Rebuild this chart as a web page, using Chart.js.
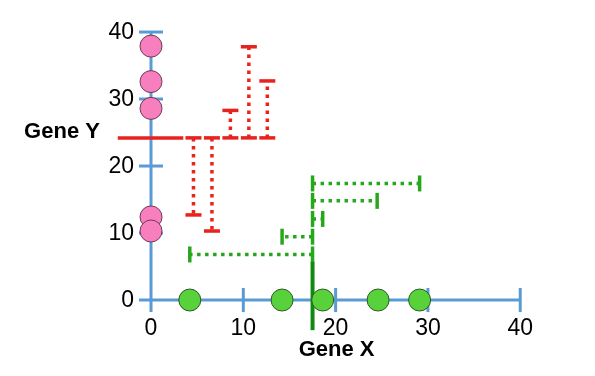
<!DOCTYPE html>
<html lang="en">
<head>
    <meta charset="UTF-8">
    <title>Gene X / Gene Y</title>
    <script src="https://cdn.jsdelivr.net/npm/chart.js"></script>
    <style>
        body { margin: 0; background: #fff; }
        canvas { display: block; }
    </style>
</head>
<body>
<canvas id="genes" width="595" height="376"></canvas>
<script>
    // values
    const geneYValues = [37.9, 32.6, 28.6, 12.4, 10.3];   // pink dots on the Y axis
    const geneXValues = [4.2, 14.2, 18.6, 24.6, 29.1];    // green dots on the X axis
    const meanY = 24.2;
    const meanX = 17.5;

    // red residuals: where each one stands on x, and where it ends on y
    const redResidX = [4.6, 6.6, 8.6, 10.6, 12.6];
    const redResidEnd = [12.7, 10.3, 28.3, 37.8, 32.7];

    // green residuals: height of each one, and where it ends on x
    const greenResidY = [6.8, 9.45, 12.1, 14.8, 17.4];
    const greenResidEnd = [4.2, 14.2, 18.6, 24.5, 29.1];

    const xTicks = [0, 10, 20, 30, 40];
    const yTicks = [0, 10, 20, 30, 40];
    const xLabel = 'Gene X';
    const yLabel = 'Gene Y';

    const AXIS = '#5b9bd5';
    const RED = '#e8221c';
    const GREEN = '#27a81c';
    const GREEN_DARK = '#128a12';
    const FONT = "'Liberation Sans', Arial, sans-serif";

    function seg(a, b, color, width, extra) {
        return Object.assign({
            data: [a, b],
            showLine: true,
            borderColor: color,
            borderWidth: width,
            pointRadius: 0,
            borderCapStyle: 'butt',
            order: 5
        }, extra || {});
    }

    const datasets = [];

    // dots first, they sit on top
    datasets.push({
        data: geneYValues.map(v => ({ x: 0, y: v })),
        pointRadius: 11,
        backgroundColor: '#f77fbd',
        borderColor: '#6e3a55',
        borderWidth: 1,
        order: 0
    });
    datasets.push({
        data: geneXValues.map(v => ({ x: v, y: 0 })),
        pointRadius: 11,
        backgroundColor: '#58d13b',
        borderColor: '#2c5a22',
        borderWidth: 1,
        order: 0
    });

    // mean lines
    datasets.push(seg({ x: -3.6, y: meanY }, { x: 3.5, y: meanY }, RED, 3.5, { order: 2 }));
    datasets.push(seg({ x: meanX, y: -4.5 }, { x: meanX, y: 5.7 }, GREEN_DARK, 4, { order: 2 }));

    // residuals with caps on both ends
    redResidX.forEach((x, i) => {
        datasets.push(seg({ x: x, y: meanY }, { x: x, y: redResidEnd[i] }, RED, 3.5, {
            borderDash: [3.5, 4.5],
            pointRadius: 8,
            pointStyle: 'line',
            pointBorderColor: RED,
            pointBorderWidth: 3.5,
            order: 3
        }));
    });
    greenResidY.forEach((y, i) => {
        datasets.push(seg({ x: meanX, y: y }, { x: greenResidEnd[i], y: y }, GREEN, 3.5, {
            borderDash: [3.5, 4.5],
            pointRadius: 8,
            pointStyle: 'line',
            pointRotation: 90,
            pointBorderColor: GREEN,
            pointBorderWidth: 3.5,
            order: 3
        }));
    });

    // axes drawn as crossed lines
    datasets.push(seg({ x: -1.3, y: 0 }, { x: xTicks[xTicks.length - 1], y: 0 }, AXIS, 3));
    datasets.push(seg({ x: 0, y: -1.8 }, { x: 0, y: yTicks[yTicks.length - 1] }, AXIS, 3));
    xTicks.filter(v => v !== 0).forEach(v => {
        datasets.push(seg({ x: v, y: -1.8 }, { x: v, y: 1.8 }, AXIS, 3));
    });
    yTicks.filter(v => v !== 0).forEach(v => {
        datasets.push(seg({ x: -1.3, y: v }, { x: 1.3, y: v }, AXIS, 3));
    });

    // tick labels and axis names
    const labelPlugin = {
        id: 'labels',
        afterDatasetsDraw(chart) {
            const ctx = chart.ctx;
            const sx = chart.scales.x, sy = chart.scales.y;
            ctx.save();
            ctx.fillStyle = '#000';
            ctx.font = '23px ' + FONT;
            ctx.textBaseline = 'middle';
            ctx.textAlign = 'center';
            xTicks.forEach(v => {
                ctx.fillText(String(v), sx.getPixelForValue(v), sy.getPixelForValue(0) + 29);
            });
            ctx.textAlign = 'right';
            yTicks.forEach(v => {
                ctx.fillText(String(v), sx.getPixelForValue(0) - 17, sy.getPixelForValue(v) + 1);
            });
            ctx.font = 'bold 22px ' + FONT;
            ctx.textAlign = 'center';
            ctx.fillText(xLabel, sx.getPixelForValue(20) + 1, sy.getPixelForValue(0) + 50);
            ctx.fillText(yLabel, sx.getPixelForValue(0) - 89, sy.getPixelForValue(meanY) - 6);
            ctx.restore();
        }
    };

    new Chart(document.getElementById('genes'), {
        type: 'scatter',
        data: { datasets: datasets },
        options: {
            responsive: false,
            animation: false,
            events: [],
            layout: { padding: 0, autoPadding: false },
            plugins: { legend: { display: false }, tooltip: { enabled: false } },
            scales: {
                x: { type: 'linear', min: -16.36, max: 48.1, display: false },
                y: { type: 'linear', min: -11.34, max: 44.78, display: false }
            }
        },
        plugins: [labelPlugin]
    });
</script>
</body>
</html>
